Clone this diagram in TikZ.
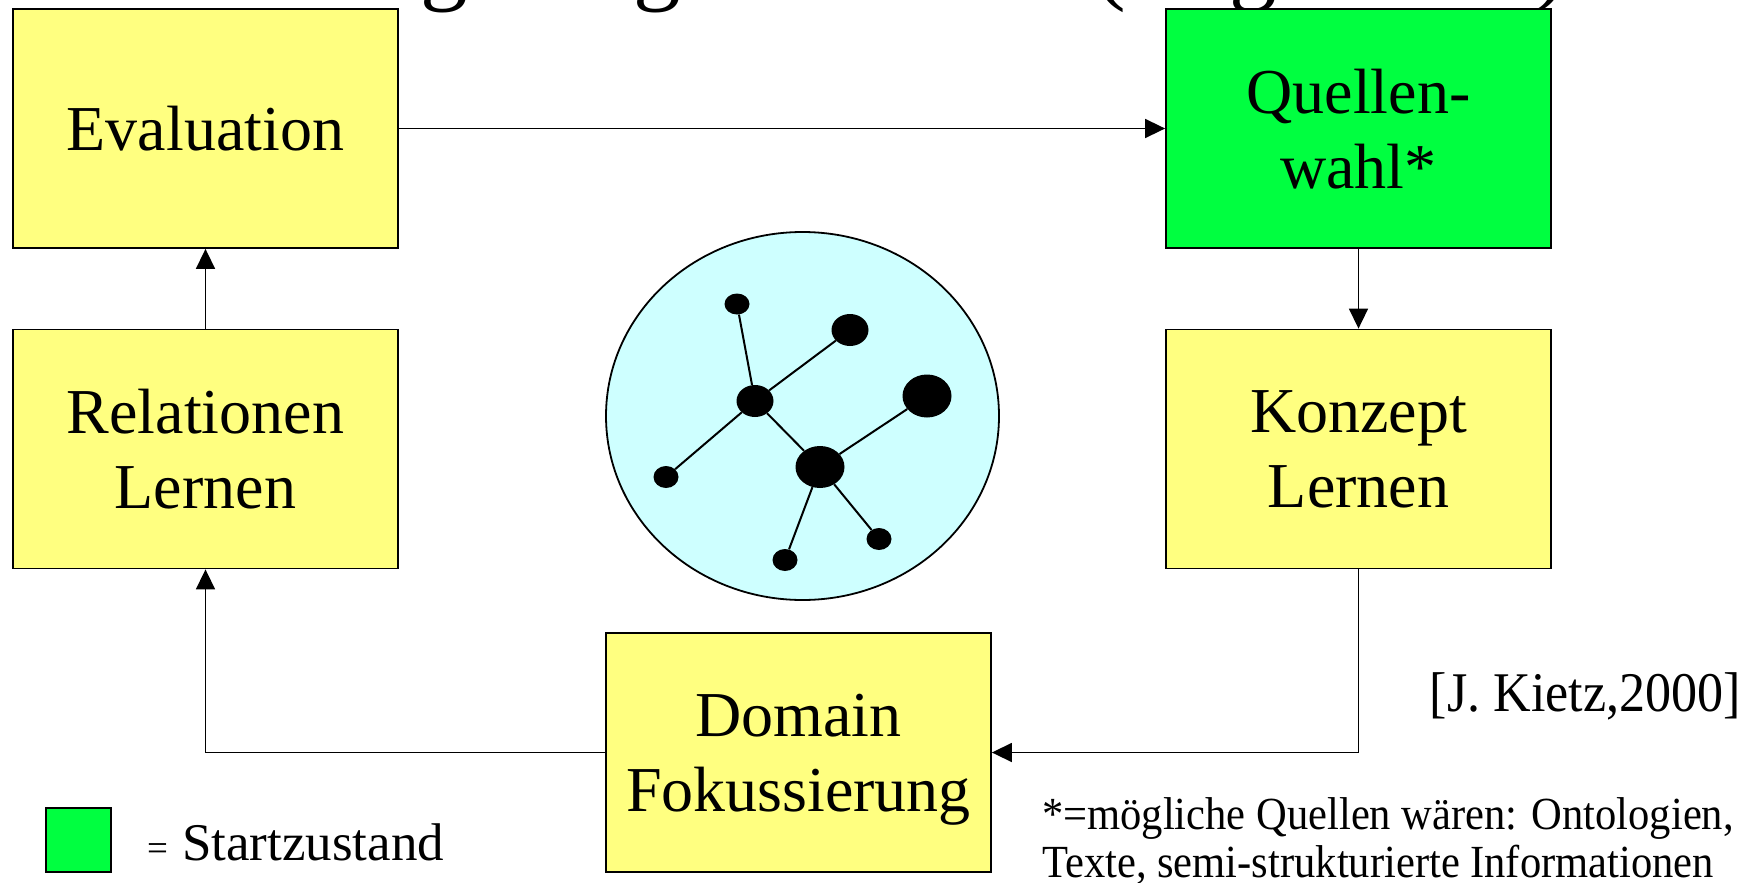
\documentclass[tikz,border=0pt]{standalone}
\usepackage{fontspec}
\setmainfont{Liberation Serif}
\usetikzlibrary{arrows.meta,shapes.geometric}
\definecolor{boxyellow}{RGB}{255,255,128}
\definecolor{startgreen}{RGB}{0,255,64}
\definecolor{domaincyan}{RGB}{206,255,255}
\begin{document}
\begin{tikzpicture}[x=1pt,y=-1pt,
  stage/.style={draw=black, line width=1.8pt, fill=boxyellow,
    minimum width=385pt, minimum height=239pt, inner sep=0pt,
    text depth=0pt, align=center, font=\fontsize{64}{75}\selectfont},
  flow/.style={line width=1.6pt, -{Triangle[length=20pt,width=19pt]}},
  link/.style={line width=2pt},
  dot/.style={ellipse, fill=black, inner sep=0pt},
  title/.style={anchor=base, inner sep=0pt, font=\fontsize{95}{100}\selectfont}]
\useasboundingbox (0,0) rectangle (1753,883);

% lower edge of the heading line, cut by the top of the page
\begin{scope}
  \clip (0,0) rectangle (1753,883);
  \node[title] (h1) at (444.5,-7) {g};
  \node[title] (h2) at (657.5,-7) {g};
  \node[title] (h3) at (1110,-7.5) {(};
  \node[title] (h4) at (1253.5,-7) {g};
  \node[title] (h5) at (1551,-7.5) {)};
\end{scope}

% process stages
\node[stage] (eval) at (205.5,128.5) {Evaluation};
\node[stage, fill=startgreen] (quelle) at (1358.5,128.5) {Quellen-\\wahl*};
\node[stage] (rel) at (205.5,449) {Relationen\\Lernen};
\node[stage] (konz) at (1358.5,449) {Konzept\\Lernen};
\node[stage] (dom) at (798.5,752.5) {Domain\\Fokussierung};

% cycle
\draw[flow] (eval) -- (quelle);
\draw[flow] (quelle) -- (konz);
\draw[flow] (konz.south) |- (dom.east);
\draw[flow] (dom.west) -| (rel.south);
\draw[flow] (rel) -- (eval);

% domain as a small network
\node[ellipse, draw=black, line width=1.8pt, fill=domaincyan,
  minimum width=393pt, minimum height=368pt] (world) at (802.5,416) {};
\node[dot, minimum width=25pt, minimum height=21pt] (n1) at (737,304) {};
\node[dot, minimum width=37pt, minimum height=32pt] (n2) at (850,330) {};
\node[dot, minimum width=37pt, minimum height=32pt] (n3) at (755,401) {};
\node[dot, minimum width=49pt, minimum height=43pt] (n4) at (927,396) {};
\node[dot, minimum width=25pt, minimum height=22pt] (n5) at (666,477) {};
\node[dot, minimum width=49pt, minimum height=42pt] (n6) at (820,467) {};
\node[dot, minimum width=25pt, minimum height=22pt] (n7) at (785,560) {};
\node[dot, minimum width=25pt, minimum height=22pt] (n8) at (879,539) {};
\draw[link] (n1) -- (n3);
\draw[link] (n3) -- (n2);
\draw[link] (n3) -- (n5);
\draw[link] (n3) -- (n6);
\draw[link] (n6) -- (n4);
\draw[link] (n6) -- (n7);
\draw[link] (n6) -- (n8);

% legend
\node[draw=black, line width=1.8pt, fill=startgreen, minimum width=65pt,
  minimum height=64pt, inner sep=0pt] (key) at (78.5,840) {};
\node[anchor=base west, inner sep=0pt, font=\fontsize{37}{40}\selectfont] (eq) at (147,860) {=};
\node[anchor=base west, inner sep=0pt, font=\fontsize{53}{60}\selectfont] (keytext) at (182,860) {Startzustand};

% source and footnote
\node[anchor=base east, inner sep=0pt, xscale=0.93, font=\fontsize{56}{60}\selectfont] (cite) at (1741,711) {[J. Kietz,2000]};
\node[anchor=base west, inner sep=0pt, xscale=0.925, font=\fontsize{46}{48}\selectfont] (note1) at (1042,829) {*=mögliche Quellen wären: Ontologien,};
\node[anchor=base west, inner sep=0pt, xscale=0.925, font=\fontsize{46}{48}\selectfont] (note2) at (1042,877) {Texte, semi-strukturierte Informationen};
\end{tikzpicture}
\end{document}
